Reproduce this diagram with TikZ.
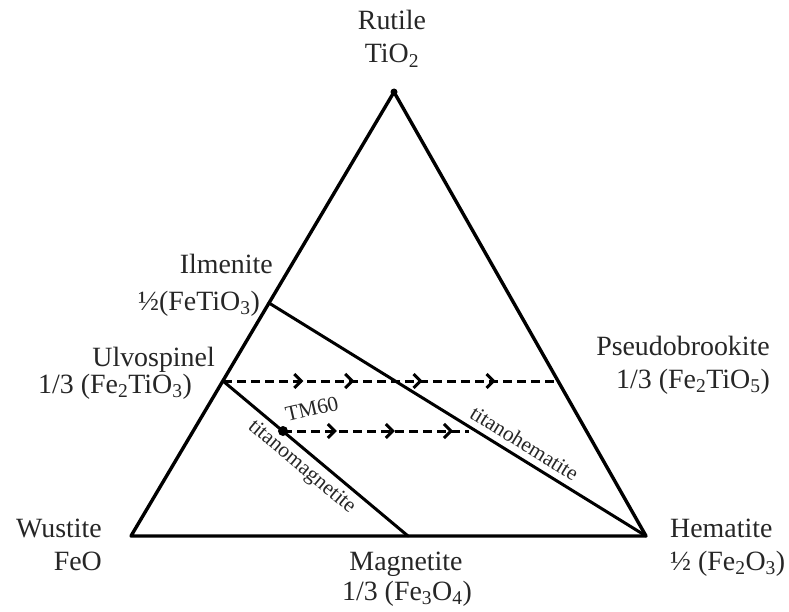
\documentclass[tikz,border=0pt]{standalone}
\usepackage{fontspec}
\setmainfont{Liberation Serif}
\usetikzlibrary{arrows.meta,decorations.markings}
\begin{document}
\begin{tikzpicture}[x=1bp,y=-1bp,
  edge/.style={line width=3.4bp, line join=round, line cap=round},
  tie/.style={line width=3bp, line cap=round},
  flow/.style={line width=3bp, dash pattern=on 9bp off 5bp},
  lbl/.style={font=\fontsize{28}{30}\selectfont, inner sep=0pt, text=black!85},
  small/.style={font=\fontsize{21.5}{23}\selectfont, text=black!85},
  dotpt/.style={circle, fill=black, inner sep=0pt, minimum size=#1},
  chev/.tip={Straight Barb[length=7bp,width=14bp,line width=3bp]},
]
\useasboundingbox (0,0) rectangle (789,612);
% vertices and points
\coordinate (Ti) at (394,92);
\coordinate (Fe) at (131,536);
\coordinate (Hm) at (646,536);
\coordinate (Il) at (269,303);
\coordinate (Uv) at (223,381);
\coordinate (Ps) at (558,381);
\coordinate (Mg) at (408,536);
\coordinate (End) at (469,431);
\node[dotpt=10bp] (TM) at (283,431) {};
\node[dotpt=7bp] (Top) at (Ti) {};
% triangle
\draw[edge] (Ti) -- (Fe) -- (Hm) -- cycle;
% tie lines
\draw[tie] (Il) -- (Hm) node[pos=0.657, sloped, above, small, inner sep=6bp] {titanohematite};
\draw[tie] (Uv) -- (Mg) node[pos=0.479, sloped, below, small, inner sep=5bp] {titanomagnetite};
% dashed flow lines with chevrons
\draw[flow, postaction={decorate}, decoration={markings,
   mark=at position 0.24 with {\arrow{chev}},
   mark=at position 0.392 with {\arrow{chev}},
   mark=at position 0.596 with {\arrow{chev}},
   mark=at position 0.814 with {\arrow{chev}}}]
   (Uv) -- (Ps);
\draw[flow, postaction={decorate}, decoration={markings,
   mark=at position 0.29 with {\arrow{chev}},
   mark=at position 0.602 with {\arrow{chev}},
   mark=at position 0.914 with {\arrow{chev}}}]
   (TM.center) -- (End);
% labels
\node[lbl, anchor=base] (rut1) at (392,30) {Rutile};
\node[lbl, anchor=base] (rut2) at (392,63) {TiO\textsubscript{2}};
\node[lbl, anchor=base east] (ilm1) at (273,273) {Ilmenite};
\node[lbl, anchor=base east] (ilm2) at (260,310) {½(FeTiO\textsubscript{3})};
\node[lbl, anchor=base east] (ulv1) at (215,366) {Ulvospinel};
\node[lbl, anchor=base east] (ulv2) at (192,393) {1/3 (Fe\textsubscript{2}TiO\textsubscript{3})};
\node[lbl, anchor=base east] (psb1) at (770,355) {Pseudobrookite};
\node[lbl, anchor=base east] (psb2) at (770,388) {1/3 (Fe\textsubscript{2}TiO\textsubscript{5})};
\node[lbl, anchor=base west] (hem1) at (670,537) {Hematite};
\node[lbl, anchor=base west] (hem2) at (670,570) {½ (Fe\textsubscript{2}O\textsubscript{3})};
\node[lbl, anchor=base east] (wus1) at (102,537) {Wustite};
\node[lbl, anchor=base east] (wus2) at (102,570) {FeO};
\node[lbl, anchor=base] (mag1) at (406,570) {Magnetite};
\node[lbl, anchor=base] (mag2) at (407,600) {1/3 (Fe\textsubscript{3}O\textsubscript{4})};
\node[small, inner sep=0pt, rotate=13] (tm60) at (312,409) {TM60};
\end{tikzpicture}
\end{document}
